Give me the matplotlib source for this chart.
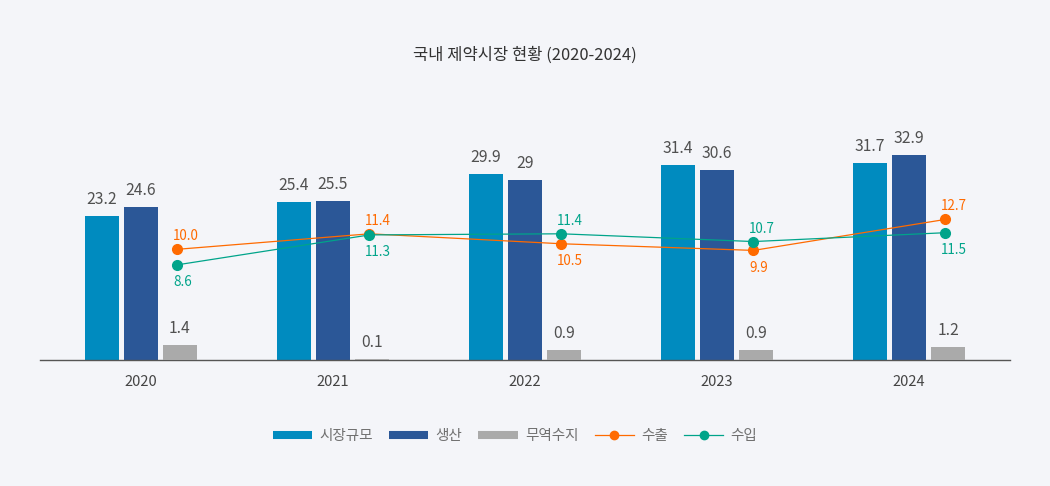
import matplotlib
matplotlib.use("Agg")
import matplotlib.pyplot as plt
import numpy as np
from matplotlib.lines import Line2D

plt.rcParams['font.family'] = ['Noto Sans CJK KR', 'DejaVu Sans']

# 데이터
years = ['2020', '2021', '2022', '2023', '2024']
market = [23.2, 25.4, 29.9, 31.4, 31.7]      # 시장규모
production = [24.6, 25.5, 29, 30.6, 32.9]    # 생산
trade = [1.4, 0.1, 0.9, 0.9, 1.2]            # 무역수지
export = [10.0, 11.4, 10.5, 9.9, 12.7]       # 수출
imports = [8.6, 11.3, 11.4, 10.7, 11.5]      # 수입

c_market = '#008bbf'
c_prod = '#2b5797'
c_trade = '#aaaaaa'
c_exp = '#ff6a00'
c_imp = '#00a48a'
bg = '#f4f5f9'
txt = '#505050'

W, H = 1050, 486
fig = plt.figure(figsize=(W / 100, H / 100), dpi=100, facecolor=bg)
ax = fig.add_axes([40 / W, 126 / H, 970 / W, 260 / H])
ax.set_facecolor(bg)
ax2 = ax.twinx()

x = np.arange(len(years))
bw = 34 / 192
step = 39 / 192

ax.bar(x - step, market, bw, color=c_market, zorder=2)
ax.bar(x, production, bw, color=c_prod, zorder=2)
ax2.bar(x + step, trade, bw, color=c_trade, zorder=2)

lx = x + 0.19
ax2.plot(lx, export, color=c_exp, lw=0.9, marker='o', ms=7, zorder=5)
ax2.plot(lx, imports, color=c_imp, lw=0.9, marker='o', ms=7, zorder=5)

ax.set_xlim(-0.526, 4.526)
ax.set_ylim(0, 260 / 6.22)
ax2.set_ylim(0, 260 / 11.07)

# 막대 값 라벨
for i in range(len(years)):
    for xv, v, a in [(x[i] - step, market[i], ax), (x[i], production[i], ax),
                     (x[i] + step, trade[i], ax2)]:
        a.annotate(f'{v:g}', (xv, v), xytext=(0, 8.6), textcoords='offset points',
                   ha='center', va='baseline', fontsize=11.3, color=txt, zorder=6)

# 선 값 라벨
for i in range(len(years)):
    exp_up = export[i] > imports[i]
    for v, c, up in [(export[i], c_exp, exp_up), (imports[i], c_imp, not exp_up)]:
        dy = 6.5 if up else -15.3
        ax2.annotate(f'{v:.1f}', (lx[i], v), xytext=(-3, dy), textcoords='offset points',
                     ha='left', va='baseline', fontsize=9.7, color=c, zorder=6)

for s in ['top', 'right', 'left']:
    ax.spines[s].set_visible(False)
    ax2.spines[s].set_visible(False)
ax2.spines['bottom'].set_visible(False)
ax.spines['bottom'].set_color('#555555')
ax.spines['bottom'].set_linewidth(1)
ax.set_yticks([])
ax2.set_yticks([])
ax.set_xticks(x)
ax.set_xticklabels(years, fontsize=10.5, color='#444444')
ax.tick_params(axis='x', length=0, pad=11)

fig.text(525 / W, 1 - 55 / H, '국내 제약시장 현황 (2020-2024)', ha='center', va='center',
         fontsize=11.9, color='#333333')

handles = [
    Line2D([], [], color=c_market, lw=5.8, solid_capstyle='butt'),
    Line2D([], [], color=c_prod, lw=5.8, solid_capstyle='butt'),
    Line2D([], [], color=c_trade, lw=5.8, solid_capstyle='butt'),
    Line2D([], [], color=c_exp, lw=0.9, marker='o', ms=6),
    Line2D([], [], color=c_imp, lw=0.9, marker='o', ms=6),
]
labels = ['시장규모', '생산', '무역수지', '수출', '수입']
leg = fig.legend(handles, labels, loc='center', bbox_to_anchor=(515 / W, 1 - 436 / H),
                 ncol=5, frameon=False, fontsize=10.5, handlelength=2.7,
                 handletextpad=0.5, columnspacing=1.1, labelcolor='#707070')

fig.savefig('out.png', dpi=100, facecolor=bg)
